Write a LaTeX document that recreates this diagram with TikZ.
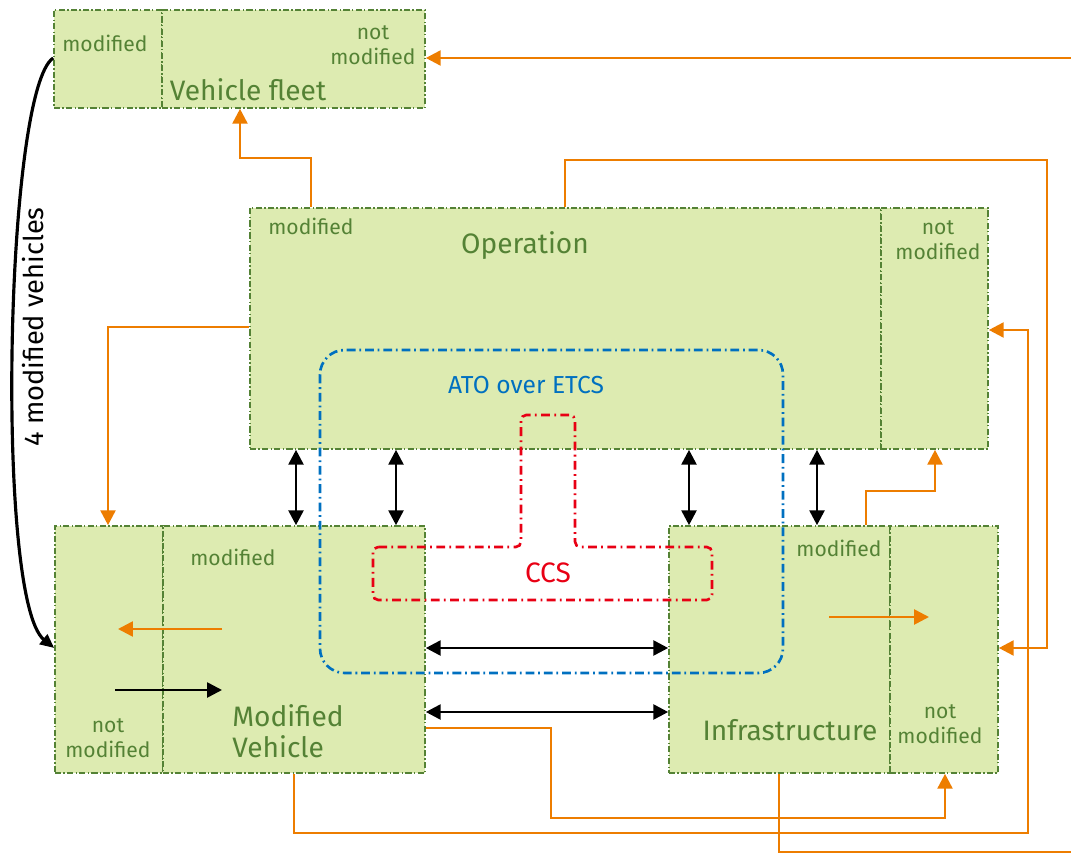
\documentclass[tikz,border=0pt]{standalone}
\usepackage{fontspec}
\setmainfont{Fira Sans}
\usetikzlibrary{positioning, arrows.meta, fit, calc}

\definecolor{boxfill}{RGB}{221,235,177}
\definecolor{boxgreen}{RGB}{84,130,53}
\definecolor{flowor}{RGB}{237,125,0}
\definecolor{atoblue}{RGB}{0,112,192}
\definecolor{ccsred}{RGB}{232,0,20}

\begin{document}
\begin{tikzpicture}[
		% pixel-like grid: x to the right, y downwards
		x=0.02cm, y=-0.02cm,
		part/.style={draw=boxgreen, fill=boxfill, line width=0.9pt, dash pattern=on 3.5pt off 1.3pt on 0.8pt off 1.3pt, inner sep=0pt},
		lbl/.style={text=boxgreen, font=\fontsize{12}{14.2}\selectfont, align=center, inner sep=0pt},
		title/.style={text=boxgreen, font=\fontsize{16}{17.6}\selectfont, inner sep=0pt},
		flow/.style={draw=flowor, line width=1.5pt, -{Triangle[length=8.5pt,width=8.5pt]}},
		flowline/.style={draw=flowor, line width=1.5pt},
		link/.style={draw=black, line width=1.6pt, {Triangle[length=8.5pt,width=8.5pt]}-{Triangle[length=8.5pt,width=8.5pt]}},
		push/.style={line width=1.5pt, -{Triangle[length=8.5pt,width=8.5pt]}}
		]
		
		\useasboundingbox (0,0) rectangle (1071,854);
		
		% --- 1. VEHICLE FLEET ---
		\node[part, fit={(54,10) (162,108)}] (fleetmod) {};
		\node[part, fit={(162,10) (425,108)}] (fleetnot) {};
		\node[lbl] (fleetmodtxt) at (105,43) {modified};
		\node[lbl] (fleetnottxt) at (373,45) {not\\modified};
		\node[title] (fleettxt) at (248,90) {Vehicle fleet};
		
		% --- 2. OPERATION ---
		\node[part, fit={(250,208) (881,449)}] (opmod) {};
		\node[part, fit={(881,208) (988,449)}] (opnot) {};
		\node[lbl] (opmodtxt) at (311,226) {modified};
		\node[title] (optxt) at (525,246) {Operation};
		\node[lbl] (opnottxt) at (938,240) {not\\modified};
		
		% --- 3. MODIFIED VEHICLE ---
		\node[part, fit={(55,526) (163,773)}] (vehnot) {};
		\node[part, fit={(163,526) (425,773)}] (vehmod) {};
		\node[lbl] (vehmodtxt) at (233,557) {modified};
		\node[lbl] (vehnottxt) at (108,738) {not\\modified};
		\node[title, anchor=west, align=left] (vehtxt) at (232,731) {Modified\\Vehicle};
		
		% --- 4. INFRASTRUCTURE ---
		\node[part, fit={(669,526) (890,773)}] (infmod) {};
		\node[part, fit={(890,526) (998,773)}] (infnot) {};
		\node[lbl] (infmodtxt) at (839,548) {modified};
		\node[title] (inftxt) at (790,730) {Infrastructure};
		\node[lbl] (infnottxt) at (940,724) {not\\modified};
		
		% --- 5. ATO OVER ETCS AND CCS ---
		\draw[atoblue, line width=1.5pt, rounded corners=14pt, dash pattern=on 5pt off 2.2pt on 1pt off 2.2pt]
		(320,350) rectangle (783,673);
		\node[text=atoblue, font=\fontsize{14}{16}\selectfont] (atotxt) at (526,385) {ATO over ETCS};
		
		\draw[ccsred, line width=1.5pt, rounded corners=3pt, dash pattern=on 5pt off 2.5pt on 1pt off 2.5pt]
		(373,547) -- (521,547) -- (521,415) -- (575,415) -- (575,547) -- (712,547) -- (712,600) -- (373,600) -- cycle;
		\node[text=ccsred, font=\fontsize{16}{18}\selectfont] (ccstxt) at (548,573) {CCS};
		
		% --- 6. INTERFACES (black) ---
		\foreach \px/\low in {296/vehmod, 396/vehmod, 689/infmod, 817/infmod} {
			\draw[link] (\px,0 |- opmod.south) -- (\px,0 |- \low.north);
		}
		\draw[link] (vehmod.east |- 0,648) -- (infmod.west |- 0,648);
		\draw[link] (vehmod.east |- 0,712) -- (infmod.west |- 0,712);
		
		% arrows between the parts of a box
		\coordinate (vehA) at (222,629);
		\coordinate (vehB) at (118,629);
		\coordinate (vehC) at (115,690);
		\coordinate (vehD) at (222,690);
		\coordinate (infA) at (829,617);
		\coordinate (infB) at (929,617);
		\draw[push, flowor] (vehA) -- (vehB);
		\draw[push, black] (vehC) -- (vehD);
		\draw[push, flowor] (infA) -- (infB);
		
		% four modified vehicles
		\draw[black, line width=1.8pt, -{Triangle[length=8pt,width=7pt]}]
		(fleetmod.west |- 0,58) .. controls (5,90) and (-5,600) .. (vehnot.west |- 0,648);
		\node[rotate=90, font=\fontsize{15.5}{17}\selectfont] (fourtxt) at (33,327) {4 modified vehicles};
		
		% --- 7. ORANGE FLOWS ---
		\coordinate (edgeN) at (1071,58);
		\coordinate (edgeS) at (1071,852);
		\draw[flow] (311,0 |- opmod.north) |- (240,158) -- (240,0 |- fleetnot.south);
		\draw[flow] (565,0 |- opmod.north) |- (1047,160) |- (infnot.east |- 0,648);
		\draw[flow] (opmod.west |- 0,327) -| (108,0 |- vehnot.north);
		\draw[flow] (866,0 |- infmod.north) |- (935,491) -- (935,0 |- opnot.south);
		\draw[flow] (vehmod.east |- 0,728) -| (551,818) -| (945,0 |- infnot.south);
		\draw[flow] (294,0 |- vehmod.south) |- (1028,833) |- (opnot.east |- 0,330);
		\draw[flowline] (779,0 |- infmod.south) |- (edgeS);
		\draw[flow] (edgeN) -- (fleetnot.east |- edgeN);
		
	\end{tikzpicture}
\end{document}
